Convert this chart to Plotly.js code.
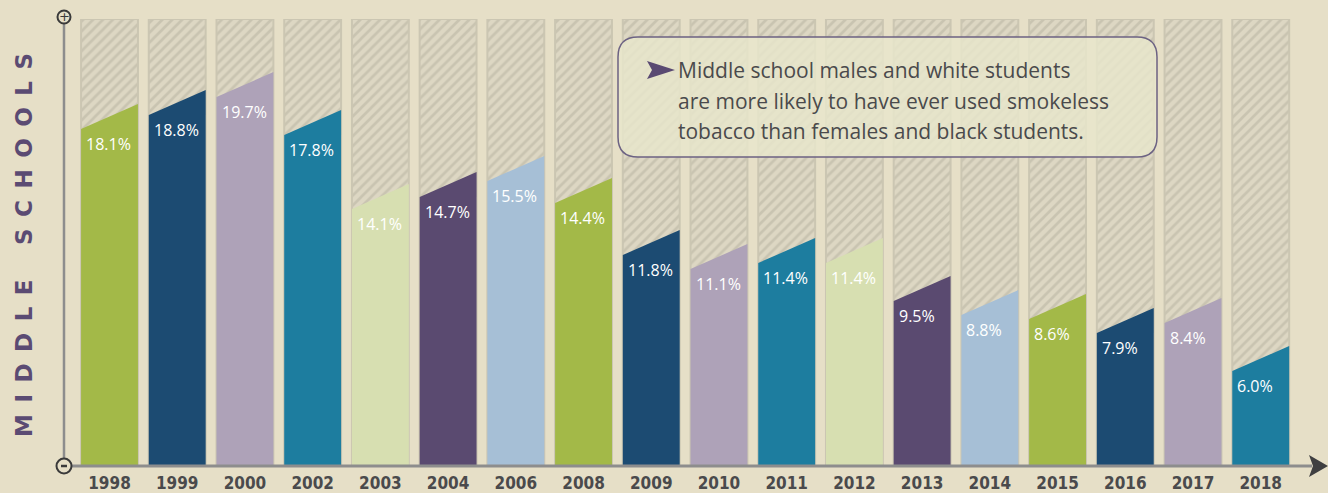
<!DOCTYPE html>
<html>
<head>
<meta charset="utf-8">
<script src="https://cdn.plot.ly/plotly-3.0.1.min.js"></script>
<style>
html,body{margin:0;padding:0;background:#e6dfc7;}
#chart{width:1328px;height:493px;}
</style>
</head>
<body>
<div id="chart"></div>
<script>
// ---- data ----
const years = ["1998","1999","2000","2002","2003","2004","2006","2008","2009","2010","2011","2012","2013","2014","2015","2016","2017","2018"];
const values = [18.1,18.8,19.7,17.8,14.1,14.7,15.5,14.4,11.8,11.1,11.4,11.4,9.5,8.8,8.6,7.9,8.4,6.0];
const labels = ["18.1%","18.8%","19.7%","17.8%","14.1%","14.7%","15.5%","14.4%","11.8%","11.1%","11.4%","11.4%","9.5%","8.8%","8.6%","7.9%","8.4%","6.0%"];
const palette = ["#a3b948","#1c4b72","#aea2b8","#1d7d9f","#d7dfb1","#5a4a70","#a6bfd6"];
const noteLines = ["Middle school males and white students","are more likely to have ever used smokeless","tobacco than females and black students."];
const axisTitle = "MIDDLE SCHOOLS";

// ---- layout constants ----
const W = 1328, H = 493;
const L = 64, R = 28, T = 19, B = 27;
const PW = W - L - R, PH = H - T - B;
const YMAX = 22.35;
const HALF = 0.42;   // half bar width in category units
const SLANT = 1.25;  // slanted top drop (value units)
const BG = "#e6dfc7";

const xp = px => (px - L) / PW;
const yp = py => (H - B - py) / PH;
function pathPx(cmds) {
  return cmds.map(c => c.length === 1 ? c[0] : c[0] + " " + xp(c[1]).toFixed(5) + "," + yp(c[2]).toFixed(5)).join(" ");
}

const idx = years.map((_, i) => i);
const traces = [];

// hatched background columns
traces.push({
  type: "bar", x: idx, y: idx.map(() => YMAX), width: 2 * HALF,
  marker: { color: "#ddd7c2", line: { color: "#cbc6b2", width: 2 },
    pattern: { shape: "/", fgcolor: "#c9c4b1", bgcolor: "#ddd7c3", size: 7, solidity: 0.38 } },
  hoverinfo: "skip", showlegend: false
});

// slanted-top value bars
values.forEach((v, i) => {
  traces.push({
    type: "scatter", mode: "lines", fill: "toself",
    x: [i - HALF, i - HALF, i + HALF, i + HALF, i - HALF],
    y: [0, v - SLANT, v, 0, 0],
    fillcolor: palette[i % palette.length],
    line: { width: 0, color: palette[i % palette.length] },
    hoverinfo: "skip", showlegend: false
  });
});

const annotations = values.map((v, i) => ({
  x: i - HALF, y: v - SLANT, xref: "x", yref: "y",
  xanchor: "left", yanchor: "top", xshift: 3, yshift: -2,
  text: labels[i], showarrow: false,
  font: { family: "'Open Sans', Lato, sans-serif", size: 16, color: "#ffffff" }
}));

// vertical title with wide letter spacing
const spaced = axisTitle.split(" ").map(w => w.split("").join("\u2002")).join("\u2003\u2002");
annotations.push({
  xref: "paper", yref: "paper", x: xp(24), y: yp(245), xanchor: "center", yanchor: "middle",
  text: spaced, textangle: -90, showarrow: false,
  font: { family: "'DejaVu Sans', sans-serif", size: 23, color: "#5b4b73", weight: "bold" }
});

// note lines
const noteY = [70, 101, 131];
noteLines.forEach((t, k) => {
  annotations.push({
    xref: "paper", yref: "paper", x: xp(676), y: yp(noteY[k]), xanchor: "left", yanchor: "middle",
    text: t, showarrow: false,
    font: { family: "'Open Sans', sans-serif", size: 21, color: "#4a4a4c" }
  });
});

// + sign
annotations.push({ xref: "paper", yref: "paper", x: xp(64), y: yp(17), text: "+", showarrow: false,
  font: { family: "DejaVu Sans", size: 13, color: "#3a3a3a" }, xanchor: "center", yanchor: "middle" });

const shapes = [];
// rounded note box
(function () {
  const x0 = 618, x1 = 1157, y0 = 37, y1 = 157, r = 20;
  const p = "M " + xp(x0 + r) + "," + yp(y0) +
    " L " + xp(x1 - r) + "," + yp(y0) +
    " Q " + xp(x1) + "," + yp(y0) + " " + xp(x1) + "," + yp(y0 + r) +
    " L " + xp(x1) + "," + yp(y1 - r) +
    " Q " + xp(x1) + "," + yp(y1) + " " + xp(x1 - r) + "," + yp(y1) +
    " L " + xp(x0 + r) + "," + yp(y1) +
    " Q " + xp(x0) + "," + yp(y1) + " " + xp(x0) + "," + yp(y1 - r) +
    " L " + xp(x0) + "," + yp(y0 + r) +
    " Q " + xp(x0) + "," + yp(y0) + " " + xp(x0 + r) + "," + yp(y0) + " Z";
  shapes.push({ type: "path", xref: "paper", yref: "paper", path: p,
    fillcolor: "rgba(232,231,204,0.82)", line: { color: "#6c6283", width: 1.5 }, layer: "above" });
})();
// arrow marker in note
shapes.push({ type: "path", xref: "paper", yref: "paper",
  path: pathPx([["M", 647, 61], ["L", 675, 70], ["L", 647, 79], ["L", 652, 70], ["Z"]]),
  fillcolor: "#5a4a72", line: { width: 0 } });
// left axis line
shapes.push({ type: "line", xref: "paper", yref: "paper", x0: 0, x1: 0, y0: yp(459), y1: yp(24),
  line: { color: "#8d8d8d", width: 2.5 } });
// bottom axis line
shapes.push({ type: "line", xref: "paper", yref: "paper", x0: xp(71), x1: xp(1312), y0: 0, y1: 0,
  line: { color: "#8d8d8d", width: 3 } });
// axis arrowhead
shapes.push({ type: "path", xref: "paper", yref: "paper",
  path: pathPx([["M", 1309, 455], ["L", 1328, 466], ["L", 1309, 477], ["L", 1313, 466], ["Z"]]),
  fillcolor: "#3f3f41", line: { width: 0 } });
// circles
shapes.push({ type: "circle", xref: "paper", yref: "paper", x0: xp(57.5), x1: xp(70.5), y0: yp(23.5), y1: yp(10.5),
  fillcolor: BG, line: { color: "#3a3a3a", width: 2 } });
shapes.push({ type: "circle", xref: "paper", yref: "paper", x0: xp(56.5), x1: xp(71.5), y0: yp(473.5), y1: yp(458.5),
  fillcolor: BG, line: { color: "#3a3a3a", width: 2 } });
shapes.push({ type: "line", xref: "paper", yref: "paper", x0: xp(61), x1: xp(67), y0: yp(466), y1: yp(466),
  line: { color: "#3a3a3a", width: 2.5 } });

const layout = {
  width: W, height: H,
  margin: { l: L, r: R, t: T, b: B, pad: 0 },
  paper_bgcolor: BG, plot_bgcolor: BG,
  showlegend: false,
  xaxis: { range: [-0.672, 17.58], tickmode: "array", tickvals: idx, ticktext: years,
    showgrid: false, zeroline: false, showline: false, ticks: "", ticklabelstandoff: 5,
    tickfont: { family: "'Liberation Sans Narrow', 'DejaVu Sans Condensed', sans-serif", size: 17, color: "#4a4a4c", weight: "bold" },
    fixedrange: true },
  yaxis: { range: [0, YMAX], showgrid: false, zeroline: false, showline: false, showticklabels: false, ticks: "", fixedrange: true },
  bargap: 0,
  shapes: shapes,
  annotations: annotations
};

Plotly.newPlot("chart", traces, layout, { displayModeBar: false, staticPlot: true });
</script>
</body>
</html>
